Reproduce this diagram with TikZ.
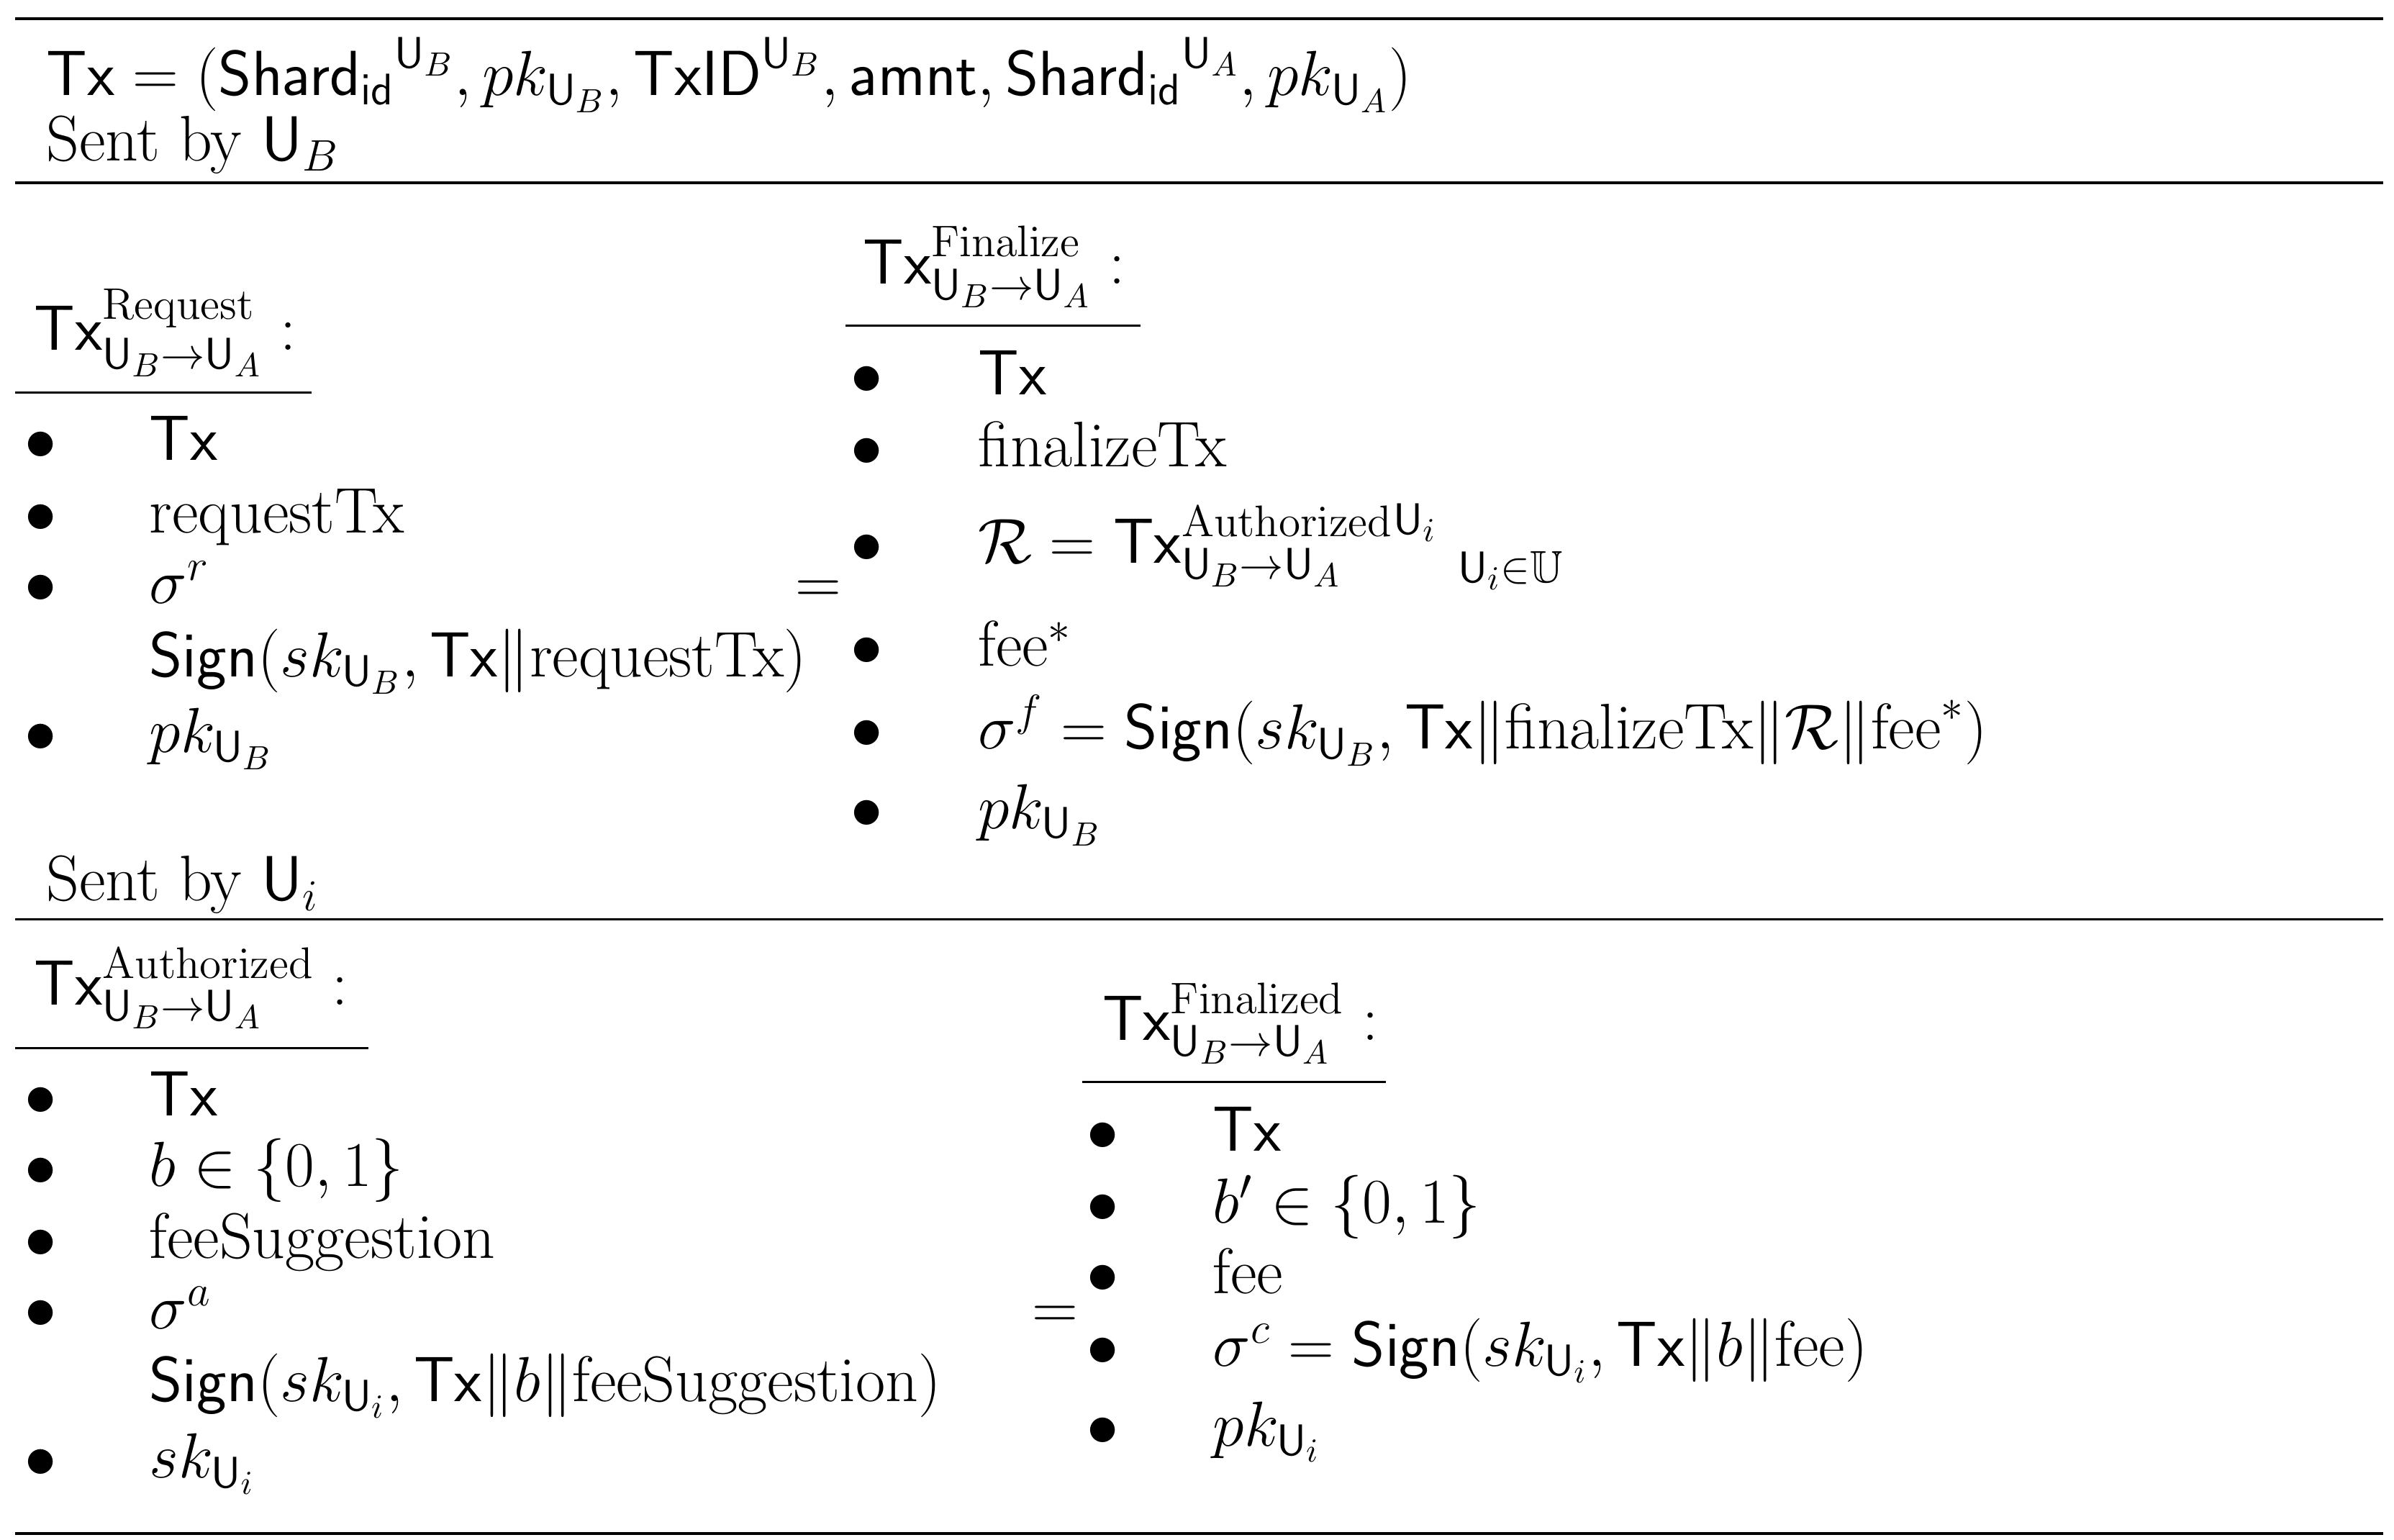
\documentclass[tikz,border=0pt]{standalone}
\usepackage{amsmath,amssymb}
\newcommand{\uu}{\mathsf{U}}
\newcommand{\tx}{\mathsf{Tx}}
\newcommand{\sg}{\mathsf{Sign}}
\begin{document}
\begin{tikzpicture}[x=0.5pt,y=-0.5pt,
  t/.style={anchor=base west,inner sep=0pt,font=\fontsize{21}{24}\selectfont},
  bl/.style={t},
  rule/.style={line width=0.9pt},
  srule/.style={line width=0.7pt}]
\useasboundingbox (0,0) rectangle (1560,1003);
% rules
\coordinate (l1a) at (10,12); \coordinate (l1b) at (1553,12);
\coordinate (l2a) at (10,119); \coordinate (l2b) at (1553,119);
\coordinate (l3a) at (10,599); \coordinate (l3b) at (1553,599);
\coordinate (l4a) at (10,999); \coordinate (l4b) at (1553,999);
\draw[rule] (l1a)--(l1b); \draw[rule] (l2a)--(l2b); \draw[rule] (l3a)--(l3b); \draw[rule] (l4a)--(l4b);
% header
\node[t] (h1) at (30,62) {$\tx=(\mathsf{Shard_{id}}^{\uu_B},pk_{\uu_B},\mathsf{TxID}^{\uu_B},\mathsf{amnt},\mathsf{Shard_{id}}^{\uu_A},pk_{\uu_A})$};
\node[t] (h2) at (30,105) {Sent by $\uu_B$};
% Request
\node[t] (rq) at (22,228) {$\tx^{\mathrm{Request}}_{\uu_B\to\uu_A}:$};
\coordinate (rqa) at (10,256); \coordinate (rqb) at (203,256); \draw[srule] (rqa)--(rqb);
\foreach \y/\n in {300/a,347/b,393/c,490/d}{\node[bl] (rb\n) at (16,\y) {$\bullet$};}
\node[t] (r1) at (97,300) {$\tx$};
\node[t] (r2) at (97,347) {requestTx};
\node[t] (r3) at (97,393) {$\sigma^r$};
\node[t] (r4) at (97,441) {$\sg(sk_{\uu_B},\tx\|\text{requestTx})$};
\node[t] (r5) at (97,490) {$pk_{\uu_B}$};
\node[t] (eq1) at (518,393) {$=$};
% Finalize
\node[t] (fz) at (562,185) {$\tx^{\mathrm{Finalize}}_{\uu_B\to\uu_A}:$};
\coordinate (fza) at (551,212); \coordinate (fzb) at (743,212); \draw[srule] (fza)--(fzb);
\foreach \y/\n in {257/a,304/b,367/c,434/d,488/e,540/f}{\node[bl] (fb\n) at (554,\y) {$\bullet$};}
\node[t] (f1) at (637,257) {$\tx$};
\node[t] (f2) at (637,304) {finalizeTx};
\node[t] (f3) at (637,367) {$\mathcal{R}=\tx^{\mathrm{Authorized}}_{\uu_B\to\uu_A}{}^{\uu_i}_{\quad\uu_i\in\mathbb{U}}$};
\node[t] (f4) at (637,434) {fee$^*$};
\node[t] (f5) at (637,488) {$\sigma^f=\sg(sk_{\uu_B},\tx\|\text{finalizeTx}\|\mathcal{R}\|\text{fee}^*)$};
\node[t] (f6) at (637,540) {$pk_{\uu_B}$};
\node[t] (h3) at (30,587) {Sent by $\uu_i$};
% Authorized
\node[t] (au) at (22,655) {$\tx^{\mathrm{Authorized}}_{\uu_B\to\uu_A}:$};
\coordinate (aua) at (10,683); \coordinate (aub) at (240,683); \draw[srule] (aua)--(aub);
\foreach \y/\n in {727/a,773/b,820/c,866/d,963/e}{\node[bl] (ab\n) at (16,\y) {$\bullet$};}
\node[t] (a1) at (97,727) {$\tx$};
\node[t] (a2) at (97,773) {$b\in\{0,1\}$};
\node[t] (a3) at (97,820) {feeSuggestion};
\node[t] (a4) at (97,866) {$\sigma^a$};
\node[t] (a5) at (97,913) {$\sg(sk_{\uu_i},\tx\|b\|\text{feeSuggestion})$};
\node[t] (a6) at (97,963) {$sk_{\uu_i}$};
\node[t] (eq2) at (672,866) {$=$};
% Finalized
\node[t] (fd) at (718,678) {$\tx^{\mathrm{Finalized}}_{\uu_B\to\uu_A}:$};
\coordinate (fda) at (705,705); \coordinate (fdb) at (903,705); \draw[srule] (fda)--(fdb);
\foreach \y/\n in {750/a,797/b,843/c,890/d,942/e}{\node[bl] (db\n) at (708,\y) {$\bullet$};}
\node[t] (d1) at (790,750) {$\tx$};
\node[t] (d2) at (790,797) {$b'\in\{0,1\}$};
\node[t] (d3) at (790,843) {fee};
\node[t] (d4) at (790,890) {$\sigma^c=\sg(sk_{\uu_i},\tx\|b\|\text{fee})$};
\node[t] (d5) at (790,942) {$pk_{\uu_i}$};
\end{tikzpicture}
\end{document}
